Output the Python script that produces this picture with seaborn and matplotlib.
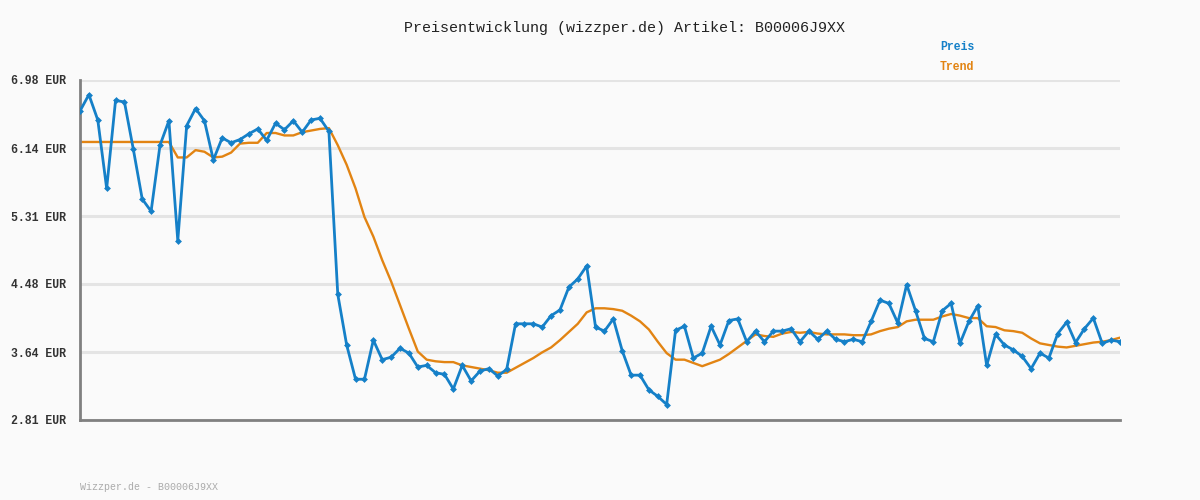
import numpy as np
import pandas as pd
import matplotlib
matplotlib.use("Agg")
import matplotlib.pyplot as plt
import seaborn as sns

# Preisdaten
preis = [6.60, 6.80, 6.49, 5.65, 6.73, 6.71, 6.13, 5.52, 5.37, 6.18,
         6.48, 5.01, 6.42, 6.63, 6.48, 6.00, 6.27, 6.21, 6.25, 6.32,
         6.38, 6.24, 6.45, 6.37, 6.48, 6.34, 6.49, 6.51, 6.35, 4.35,
         3.73, 3.31, 3.31, 3.79, 3.55, 3.58, 3.69, 3.63, 3.46, 3.48,
         3.39, 3.37, 3.19, 3.48, 3.29, 3.41, 3.44, 3.35, 3.43, 3.99,
         3.99, 3.99, 3.95, 4.09, 4.16, 4.44, 4.54, 4.70, 3.95, 3.90,
         4.05, 3.66, 3.36, 3.36, 3.18, 3.10, 3.00, 3.91, 3.96, 3.57,
         3.63, 3.96, 3.73, 4.03, 4.05, 3.77, 3.90, 3.77, 3.90, 3.90,
         3.93, 3.77, 3.90, 3.80, 3.90, 3.80, 3.77, 3.80, 3.77, 4.02,
         4.28, 4.24, 4.00, 4.47, 4.15, 3.81, 3.77, 4.15, 4.24, 3.75,
         4.02, 4.21, 3.48, 3.86, 3.73, 3.67, 3.59, 3.44, 3.63, 3.57,
         3.87, 4.01, 3.76, 3.93, 4.06, 3.75, 3.79, 3.77]

trend = [6.22, 6.22, 6.22, 6.22, 6.22, 6.22, 6.22, 6.22, 6.22, 6.22,
         6.22, 6.03, 6.03, 6.12, 6.10, 6.03, 6.04, 6.09, 6.20, 6.21,
         6.21, 6.33, 6.33, 6.30, 6.30, 6.34, 6.36, 6.38, 6.39, 6.18,
         5.94, 5.65, 5.30, 5.06, 4.77, 4.51, 4.22, 3.93, 3.65, 3.55,
         3.53, 3.52, 3.52, 3.48, 3.46, 3.44, 3.42, 3.39, 3.39, 3.45,
         3.51, 3.57, 3.64, 3.70, 3.79, 3.89, 3.99, 4.13, 4.18, 4.18,
         4.17, 4.15, 4.09, 4.02, 3.92, 3.77, 3.63, 3.55, 3.55, 3.51,
         3.47, 3.51, 3.55, 3.62, 3.70, 3.78, 3.86, 3.84, 3.83, 3.87,
         3.89, 3.88, 3.89, 3.87, 3.86, 3.86, 3.86, 3.85, 3.85, 3.86,
         3.90, 3.93, 3.95, 4.02, 4.04, 4.04, 4.04, 4.08, 4.11, 4.09,
         4.06, 4.06, 3.96, 3.95, 3.91, 3.90, 3.88, 3.81, 3.75, 3.73,
         3.71, 3.70, 3.72, 3.74, 3.76, 3.77, 3.79, 3.82]

y_ticks = [2.81, 3.64, 4.48, 5.31, 6.14, 6.98]
y_labels = ["2.81 EUR", "3.64 EUR", "4.48 EUR", "5.31 EUR", "6.14 EUR", "6.98 EUR"]

artikel = "B00006J9XX"
blau = "#1580c8"
orange = "#e28413"

df = pd.DataFrame({"Tag": np.arange(len(preis)), "Preis": preis, "Trend": trend})

sns.set_style("white", {"axes.facecolor": "#fafafa", "figure.facecolor": "#fafafa"})
plt.rcParams["font.family"] = ["Liberation Mono", "DejaVu Sans Mono"]

fig = plt.figure(figsize=(12, 5), dpi=100)
ax = fig.add_axes([80 / 1200, 80 / 500, 1040 / 1200, 340 / 500])

# Gitterlinien
for t in y_ticks:
    ax.axhline(t, color="#e4e4e4", lw=2.2, zorder=0)

sns.lineplot(data=df, x="Tag", y="Trend", color=orange, lw=1.7, ax=ax, zorder=2)
sns.lineplot(data=df, x="Tag", y="Preis", color=blau, lw=2.0, marker="D",
             markersize=3.5, markeredgewidth=0, ax=ax, zorder=3)

ax.set_xlim(0, len(preis) - 1)
ax.set_ylim(2.81, 6.98)
ax.set_yticks(y_ticks)
ax.set_yticklabels(y_labels, fontsize=8.3, fontweight="bold", color="#333333")
ax.set_xticks([])
ax.tick_params(axis="y", length=0, pad=10)
ax.set_xlabel("")
ax.set_ylabel("")

for s in ["top", "right"]:
    ax.spines[s].set_visible(False)
for s in ["left", "bottom"]:
    ax.spines[s].set_color("#808080")
    ax.spines[s].set_linewidth(2)

fig.text(0.52, 1 - 28 / 500, "Preisentwicklung (wizzper.de) Artikel: " + artikel,
         ha="center", va="center", fontsize=10.8, color="#222222")
fig.text(940 / 1200, 1 - 47 / 500, "Preis", ha="left", va="center",
         fontsize=8.3, fontweight="bold", color=blau)
fig.text(940 / 1200, 1 - 67 / 500, "Trend", ha="left", va="center",
         fontsize=8.3, fontweight="bold", color=orange)
fig.text(80 / 1200, 1 - 487 / 500, "Wizzper.de - " + artikel, ha="left", va="center",
         fontsize=7.2, color="#aaaaaa")

fig.savefig("out.png", dpi=100, facecolor="#fafafa")
